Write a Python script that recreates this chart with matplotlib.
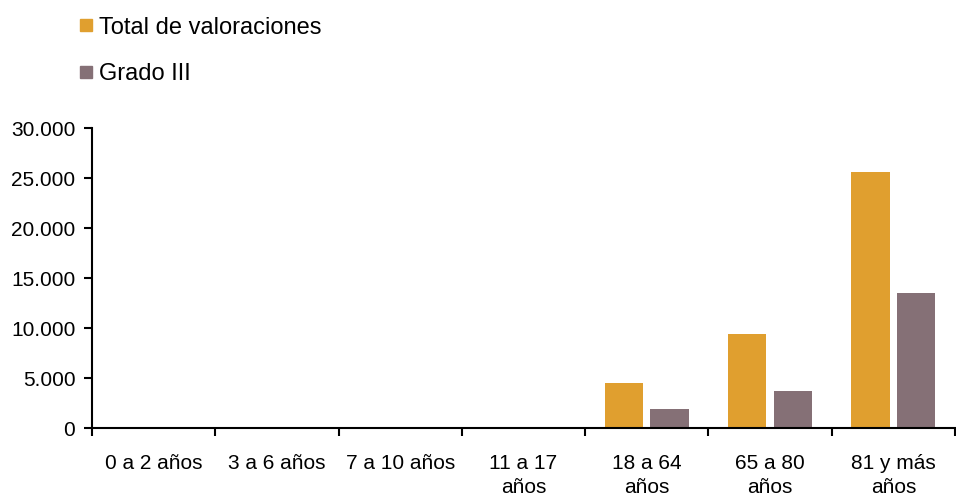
import matplotlib
matplotlib.use("Agg")
import matplotlib.pyplot as plt
from matplotlib.lines import Line2D
import numpy as np

plt.rcParams['font.family'] = ['Liberation Sans', 'DejaVu Sans']

categories = ["0 a 2 años", "3 a 6 años", "7 a 10 años", "11 a 17\naños",
              "18 a 64\naños", "65 a 80\naños", "81 y más\naños"]
total_valoraciones = [0, 0, 0, 0, 4500, 9400, 25600]
grado_iii = [0, 0, 0, 0, 1900, 3750, 13500]
yticks = [0, 5000, 10000, 15000, 20000, 25000, 30000]
ytick_labels = ["0", "5.000", "10.000", "15.000", "20.000", "25.000", "30.000"]

c_total = "#E09F2F"
c_grado = "#857076"

fig = plt.figure(figsize=(9.56, 4.95), dpi=100)
ax = fig.add_axes([92/956, 1-428/495, (955-92)/956, 300/495])

x = np.arange(len(categories))
w = 0.31
ax.bar(x - 0.185, total_valoraciones, width=w, color=c_total)
ax.bar(x + 0.185, grado_iii, width=w, color=c_grado)

ax.set_xlim(-0.5, len(categories) - 0.5)
ax.set_ylim(0, 30000)
ax.set_yticks(yticks)
ax.set_yticklabels(ytick_labels, fontsize=15)
ax.set_xticks(x)
ax.set_xticklabels(categories, fontsize=15, linespacing=1.3)
ax.set_xticks(np.arange(len(categories) + 1) - 0.5, minor=True)
ax.tick_params(axis='x', which='major', length=0, pad=19)
ax.tick_params(axis='x', which='minor', length=6, width=1.5, direction='out')
ax.tick_params(axis='y', length=6, width=1.5, direction='out', pad=6)

for s in ['top', 'right']:
    ax.spines[s].set_visible(False)
for s in ['left', 'bottom']:
    ax.spines[s].set_linewidth(1.5)

handles = [Line2D([], [], marker='s', linestyle='none', markersize=8, color=c_total),
           Line2D([], [], marker='s', linestyle='none', markersize=8, color=c_grado)]
fig.legend(handles, ["Total de valoraciones", "Grado III"], loc='upper left',
           bbox_to_anchor=(62/956, 1.0), frameon=False, fontsize=17,
           handlelength=0.6, handletextpad=0.28, labelspacing=1.05,
           borderaxespad=0.3)

fig.savefig("out.png", dpi=100)
